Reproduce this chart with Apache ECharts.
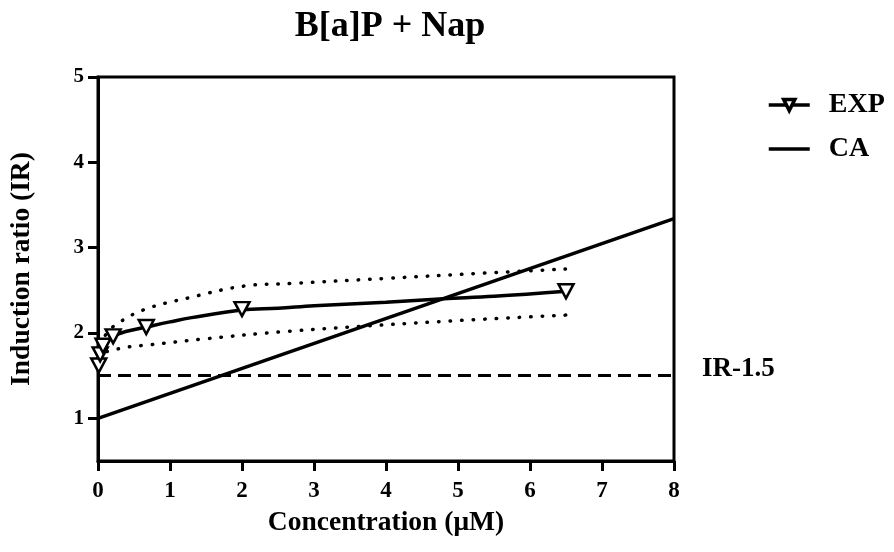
<!DOCTYPE html>
<html>
<head>
<meta charset="utf-8">
<script src="https://cdn.jsdelivr.net/npm/echarts@6/dist/echarts.min.js"></script>
<style>
  html, body { margin: 0; padding: 0; background: #fff; }
  #chart { width: 894px; height: 552px; }
</style>
</head>
<body>
<div id="chart"></div>
<script>
// Measured induction ratios (EXP markers)
const expConc = [0.01, 0.03, 0.07, 0.21, 0.67, 2.0, 6.5];
const expIR   = [1.62, 1.75, 1.85, 1.96, 2.07, 2.28, 2.49];

// Fitted concentration-response curve for the mixture
const fitConc = [0.01, 0.03, 0.07, 0.21, 0.4, 0.67, 1.0, 1.3, 2.0, 2.5, 3.0, 4.0, 4.8, 5.5, 6.5];
const fitIR   = [1.62, 1.75, 1.85, 1.96, 2.02, 2.07, 2.13, 2.18, 2.27, 2.29, 2.32, 2.36, 2.40, 2.43, 2.49];

// 95% confidence band of the fit (dotted)
const upperConc = [0.01, 0.08, 0.22, 0.63, 1.25, 2.03, 2.68, 4.0, 5.32, 6.5];
const upperIR   = [1.86, 1.95, 2.08, 2.27, 2.41, 2.55, 2.58, 2.64, 2.70, 2.75];
const lowerConc = [0.01, 0.05, 0.22, 0.36, 0.69, 1.47, 2.64, 4.67, 6.5];
const lowerIR   = [1.70, 1.76, 1.80, 1.83, 1.86, 1.93, 2.02, 2.13, 2.21];

// Concentration addition prediction
const caConc = [0, 8];
const caIR   = [1.0, 3.34];

// Induction threshold
const threshold = 1.5;

const xTicks = [0, 1, 2, 3, 4, 5, 6, 7, 8];
const yTicks = [1, 2, 3, 4, 5];

const pair = (xs, ys) => xs.map((x, i) => [x, ys[i]]);

const FONT = '"Liberation Serif", "Times New Roman", serif';
const tri = 'path://M0,0L12,0L6,11Z';

const chart = echarts.init(document.getElementById('chart'), null, { renderer: 'canvas' });

chart.setOption({
  animation: false,
  backgroundColor: '#fff',
  title: {
    text: 'B[a]P + Nap',
    left: 385,
    textAlign: 'center',
    top: 4,
    textStyle: { fontFamily: FONT, fontWeight: 'bold', fontSize: 36, color: '#000' }
  },
  legend: {
    orient: 'vertical',
    left: 762,
    top: 86,
    itemWidth: 41,
    itemHeight: 14,
    itemGap: 16,
    symbolKeepAspect: true,
    lineStyle: { width: 3.5 },
    data: [
      { name: 'EXP', itemStyle: { color: '#fff', borderColor: '#000', borderWidth: 3.5 } },
      { name: 'CA', icon: 'path://M0,0L41,0L41,3.5L0,3.5Z', itemStyle: { color: '#000' } }
    ],
    textStyle: { fontFamily: FONT, fontWeight: 'bold', fontSize: 28, color: '#000', padding: [0, 0, 0, 14] }
  },
  grid: {
    left: 97, right: 220, top: 77, bottom: 91,
    show: true, borderColor: '#000', borderWidth: 3, backgroundColor: 'transparent'
  },
  xAxis: {
    type: 'value',
    min: 0, max: 8, interval: 1,
    name: 'Concentration (\u03bcM)',
    nameLocation: 'middle',
    nameGap: 48,
    nameTextStyle: { fontFamily: FONT, fontWeight: 'bold', fontSize: 27.5, color: '#000' },
    axisLine: { show: true, lineStyle: { color: '#000', width: 3 } },
    axisTick: { show: true, inside: false, length: 10, lineStyle: { color: '#000', width: 3 }, customValues: xTicks },
    axisLabel: { margin: 19, fontFamily: FONT, fontWeight: 'bold', fontSize: 23, color: '#000', customValues: xTicks },
    splitLine: { show: false }
  },
  yAxis: {
    type: 'value',
    min: 0.5, max: 5, interval: 0.5,
    name: 'Induction ratio (IR)',
    nameLocation: 'middle',
    nameGap: 62,
    nameRotate: 90,
    nameTextStyle: { fontFamily: FONT, fontWeight: 'bold', fontSize: 27.5, color: '#000' },
    axisLine: { show: true, lineStyle: { color: '#000', width: 3 } },
    axisTick: { show: true, inside: false, length: 10, lineStyle: { color: '#000', width: 3 }, customValues: yTicks },
    axisLabel: { margin: 14, fontFamily: FONT, fontWeight: 'bold', fontSize: 21, color: '#000', customValues: yTicks },
    splitLine: { show: false }
  },
  series: [
    {
      name: 'CA',
      type: 'line',
      data: pair(caConc, caIR),
      symbol: 'none',
      lineStyle: { color: '#000', width: 3.5 },
      itemStyle: { color: '#000' },
      z: 3,
      markLine: {
        silent: true,
        symbol: 'none',
        data: [{ yAxis: threshold }],
        lineStyle: { color: '#000', width: 3, type: [13, 7] },
        label: {
          show: true,
          position: 'end',
          distance: 28,
          formatter: '{t|IR-' + threshold + '}\n{s| }',
          rich: {
            t: { fontFamily: FONT, fontWeight: 'bold', fontSize: 27, color: '#000', lineHeight: 28 },
            s: { fontSize: 8, lineHeight: 14 }
          }
        }
      }
    },
    {
      name: 'upper',
      type: 'line',
      data: pair(upperConc, upperIR),
      smooth: 0.4,
      symbol: 'none',
      lineStyle: { color: '#000', width: 3.5, type: [0.5, 11], cap: 'round' },
      z: 2
    },
    {
      name: 'lower',
      type: 'line',
      data: pair(lowerConc, lowerIR),
      smooth: 0.4,
      symbol: 'none',
      lineStyle: { color: '#000', width: 3.5, type: [0.5, 11], cap: 'round' },
      z: 2
    },
    {
      name: 'EXP',
      type: 'line',
      data: pair(fitConc, fitIR),
      smooth: 0.4,
      symbol: tri,
      symbolSize: [15, 14],
      showSymbol: false,
      lineStyle: { color: '#000', width: 3.5 },
      itemStyle: { color: '#fff', borderColor: '#000', borderWidth: 2.5 },
      z: 3
    },
    {
      name: 'EXP',
      type: 'scatter',
      data: pair(expConc, expIR),
      symbol: tri,
      symbolSize: [15, 14],
      itemStyle: { color: '#fff', borderColor: '#000', borderWidth: 2.5, opacity: 1 },
      z: 5
    }
  ]
});
</script>
</body>
</html>
